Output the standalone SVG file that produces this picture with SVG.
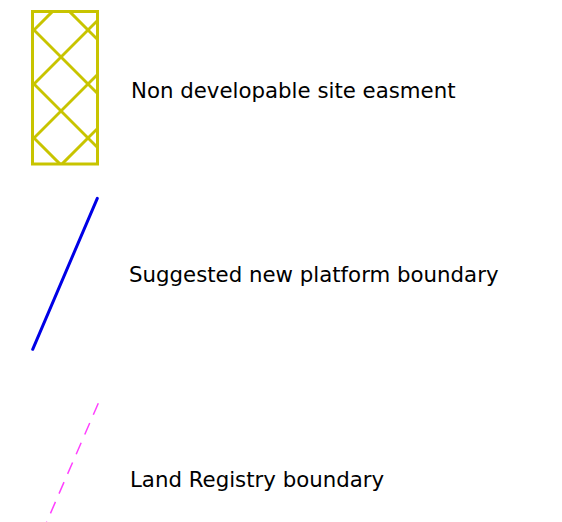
<svg xmlns="http://www.w3.org/2000/svg" width="562" height="522" viewBox="0 0 562 522">
<style>
.lbl{font-family:"DejaVu Sans",Verdana,sans-serif;font-size:21.3px;fill:#000}
.hatch{stroke:#c8c400;stroke-width:3;fill:none}
</style>
<defs>
<clipPath id="easeClip"><rect x="32.5" y="11.5" width="65" height="152.5"/></clipPath>
</defs>
<rect width="562" height="522" fill="#fff"/>
<g id="easement">
<g clip-path="url(#easeClip)" class="hatch">
<line x1="20" y1="-38" x2="120" y2="62"/>
<line x1="20" y1="16" x2="120" y2="116"/>
<line x1="20" y1="70" x2="120" y2="170"/>
<line x1="20" y1="124" x2="120" y2="224"/>
<line x1="20" y1="44" x2="120" y2="-56"/>
<line x1="20" y1="98" x2="120" y2="-2"/>
<line x1="20" y1="152" x2="120" y2="52"/>
<line x1="20" y1="206" x2="120" y2="106"/>
<line x1="20" y1="260" x2="120" y2="160"/>
</g>
<rect class="hatch" x="32.5" y="11.5" width="65" height="152.5"/>
<text class="lbl" x="131" y="98">Non developable site easment</text>
</g>
<g id="platform">
<line x1="97.3" y1="198.3" x2="32.7" y2="349.3" stroke="#0000e6" stroke-width="3" stroke-linecap="round"/>
<text class="lbl" x="129" y="282">Suggested new platform boundary</text>
</g>
<g id="landreg">
<line x1="98.3" y1="403.3" x2="46.7" y2="522" stroke="#ff40ff" stroke-width="1.5" stroke-dasharray="12.5 9"/>
<text class="lbl" x="130" y="487">Land Registry boundary</text>
</g>
</svg>
